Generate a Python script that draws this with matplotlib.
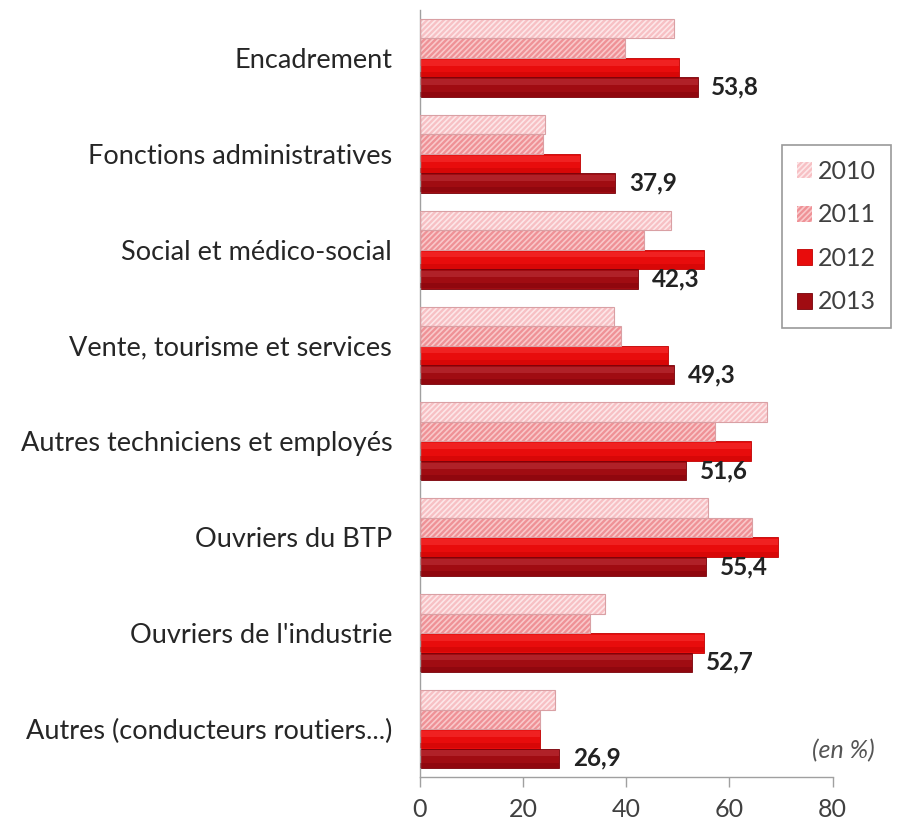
import matplotlib
matplotlib.use("Agg")
import matplotlib.pyplot as plt
import numpy as np

plt.rcParams['font.family'] = ['Lato', 'DejaVu Sans']
plt.rcParams['hatch.linewidth'] = 1.2

categories = ["Encadrement", "Fonctions administratives", "Social et médico-social",
              "Vente, tourisme et services", "Autres techniciens et employés",
              "Ouvriers du BTP", "Ouvriers de l'industrie", "Autres (conducteurs routiers...)"]
years = ["2010", "2011", "2012", "2013"]
v2010 = [49.3, 24.2, 48.6, 37.7, 67.3, 55.9, 35.8, 26.1]
v2011 = [39.7, 23.8, 43.5, 38.9, 57.1, 64.4, 32.9, 23.2]
v2012 = [50.3, 31.0, 55.1, 48.0, 64.2, 69.4, 55.1, 23.2]
v2013 = [53.8, 37.9, 42.3, 49.3, 51.6, 55.4, 52.7, 26.9]
labels2013 = ["53,8", "37,9", "42,3", "49,3", "51,6", "55,4", "52,7", "26,9"]
xticks = [0, 20, 40, 60, 80]

series = [v2010, v2011, v2012, v2013]
faces = ["#f7c0c4", "#ef9196", "#e80c0c", "#a00c12"]
hatchcol = ["#fde6e8", "#f9c8ca", None, None]
hatches = ["//////", "//////", None, None]
lights = [None, None, "#ff4a4a", "#d04a52"]
darks = [None, None, "#c00000", "#780008"]

fig = plt.figure(figsize=(9.13, 8.24), dpi=100)
ax = fig.add_axes([0.46, 0.057, 0.452, 0.931])

y = np.arange(len(categories))
h = 0.203
offs = [-1.5, -0.5, 0.5, 1.5]
for k, vals in enumerate(series):
    yy = y + offs[k] * h
    if hatches[k]:
        ax.barh(yy, vals, height=h, color=faces[k], edgecolor=hatchcol[k],
                hatch=hatches[k], linewidth=0, label=years[k], zorder=2)
        ax.barh(yy, vals, height=h, facecolor="none", edgecolor="#d9a0a4",
                linewidth=0.8, zorder=3)
    else:
        ax.barh(yy, vals, height=h, color=faces[k], edgecolor=darks[k],
                linewidth=0.6, label=years[k], zorder=2)
        # glossy look: lighter upper band, darker lower band
        ax.barh(yy - h * 0.25, vals, height=h * 0.3, color=lights[k], alpha=0.35,
                linewidth=0, zorder=3)
        ax.barh(yy + h * 0.36, vals, height=h * 0.26, color=darks[k], alpha=0.4,
                linewidth=0, zorder=3)

for i, (v, t) in enumerate(zip(v2013, labels2013)):
    ax.annotate(t, (v, y[i] + 1.5 * h), xytext=(10, 0), textcoords="offset points",
                ha="left", va="center", fontsize=17.5, fontweight="bold", color="#222222")

ax.set_xlim(0, 80)
ax.set_ylim(len(categories) - 0.5, -0.5)
ax.set_xticks(xticks)
ax.set_xticklabels([str(t) for t in xticks], fontsize=18, color="#404040")
ax.set_yticks(y)
ax.set_yticklabels(categories, fontsize=19.5, color="#262626")
ax.tick_params(axis="y", length=0, pad=20)
ax.tick_params(axis="x", length=7, width=1, color="#a0a0a0", pad=8, direction="out")
for s in ["top", "right"]:
    ax.spines[s].set_visible(False)
for s in ["left", "bottom"]:
    ax.spines[s].set_color("#a0a0a0")
    ax.spines[s].set_linewidth(1)

ax.text(1.102, 0.035, "(en %)", transform=ax.transAxes, ha="right", va="center",
        fontsize=18, style="italic", color="#555555")

leg = ax.legend(loc="upper left", bbox_to_anchor=(0.877, 0.824), fontsize=18,
                frameon=True, fancybox=False, edgecolor="#808080",
                handlelength=0.6, handleheight=0.6, handletextpad=0.25,
                labelspacing=0.82, borderpad=0.6, borderaxespad=0,
                labelcolor="#404040")
leg.get_frame().set_linewidth(1.2)

fig.savefig("out.png", dpi=100)
